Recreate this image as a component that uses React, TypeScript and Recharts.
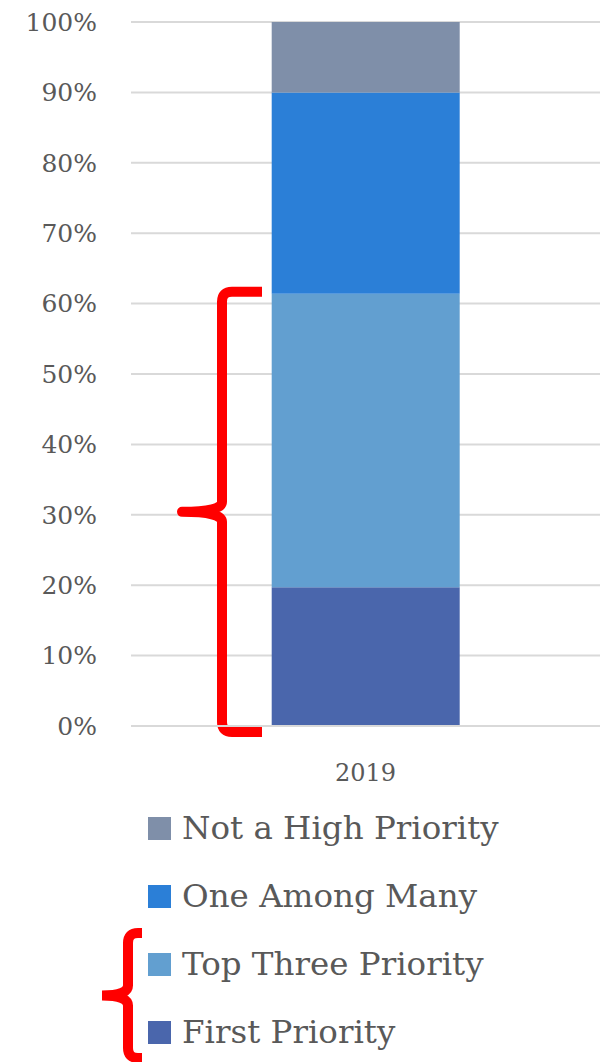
import React from 'react';
import { BarChart, Bar, XAxis, YAxis, CartesianGrid, ReferenceArea } from 'recharts';

const years = ['2019'];
const firstPriority = [19.7];
const topThree = [41.7];
const oneAmongMany = [28.6];
const notHigh = [10.0];
const yTicks = [0, 10, 20, 30, 40, 50, 60, 70, 80, 90, 100];

const SERIES = [
  { key: 'first', name: 'First Priority', color: '#4A66AC' },
  { key: 'top3', name: 'Top Three Priority', color: '#629FD0' },
  { key: 'many', name: 'One Among Many', color: '#2B7FD7' },
  { key: 'nothigh', name: 'Not a High Priority', color: '#7F8FA9' },
];

const data = years.map((y, i) => ({
  year: y,
  first: firstPriority[i],
  top3: topThree[i],
  many: oneAmongMany[i],
  nothigh: notHigh[i],
}));

const FONT = '"DejaVu Serif", "Liberation Serif", serif';
const TEXT = '#595959';
const RED = '#FF0000';

// curly brace opening to the right, spanning top..bottom
function bracePath(xEnd: number, xV: number, xNub: number, top: number, bottom: number) {
  const mid = (top + bottom) / 2;
  const r = 10;
  return [
    `M ${xEnd} ${top}`,
    `L ${xV + r} ${top}`,
    `Q ${xV} ${top} ${xV} ${top + r}`,
    `L ${xV} ${mid - r}`,
    `Q ${xV} ${mid} ${xNub} ${mid}`,
    `Q ${xV} ${mid} ${xV} ${mid + r}`,
    `L ${xV} ${bottom - r}`,
    `Q ${xV} ${bottom} ${xV + r} ${bottom}`,
    `L ${xEnd} ${bottom}`,
  ].join(' ');
}

const ChartBrace = (props: any) => {
  const { y, height } = props;
  return (
    <path
      d={bracePath(262, 222, 182, y - 2, y + height + 6)}
      fill="none"
      stroke={RED}
      strokeWidth={10}
      strokeLinejoin="round"
    />
  );
};

const LegendBlock = () => {
  const items = [...SERIES].reverse();
  return (
    <div style={{ position: 'absolute', left: 0, top: 794, width: 608, fontFamily: FONT }}>
      <svg width={60} height={140} style={{ position: 'absolute', left: 92, top: 133 }}>
        <path d={bracePath(50, 36, 10, 6, 131)} fill="none" stroke={RED} strokeWidth={10} />
      </svg>
      {items.map((s) => (
        <div
          key={s.key}
          style={{ display: 'flex', alignItems: 'center', height: 68, paddingLeft: 148 }}
        >
          <span style={{ width: 23, height: 23, background: s.color, display: 'inline-block', flexShrink: 0 }} />
          <span style={{ marginLeft: 11, fontSize: 32.5, color: TEXT, whiteSpace: 'nowrap' }}>{s.name}</span>
        </div>
      ))}
    </div>
  );
};

export default function App() {
  return (
    <div style={{ position: 'absolute', left: 0, top: 0, width: 608, height: 1062, background: '#fff' }}>
      <BarChart
        width={608}
        height={1062}
        data={data}
        margin={{ top: 22, right: 8, left: 0, bottom: 306 }}
        barCategoryGap="30%"
      >
        <CartesianGrid vertical={false} stroke="#D9D9D9" strokeWidth={2} />
        <XAxis
          dataKey="year"
          axisLine={{ stroke: '#D9D9D9', strokeWidth: 2 }}
          tickLine={false}
          tickMargin={32}
          tick={{ fill: TEXT, fontSize: 24, fontFamily: FONT }}
        />
        <YAxis
          width={131}
          domain={[0, 100]}
          ticks={yTicks}
          axisLine={false}
          tickLine={false}
          tickSize={0}
          tickMargin={34}
          tickFormatter={(v) => `${v}%`}
          tick={{ fill: TEXT, fontSize: 25, fontFamily: FONT }}
        />
        {SERIES.map((s) => (
          <Bar key={s.key} dataKey={s.key} name={s.name} stackId="a" fill={s.color} isAnimationActive={false} />
        ))}
        <ReferenceArea
          y1={0}
          y2={firstPriority[0] + topThree[0]}
          ifOverflow="visible"
          shape={ChartBrace}
        />
      </BarChart>
      <LegendBlock />
    </div>
  );
}
